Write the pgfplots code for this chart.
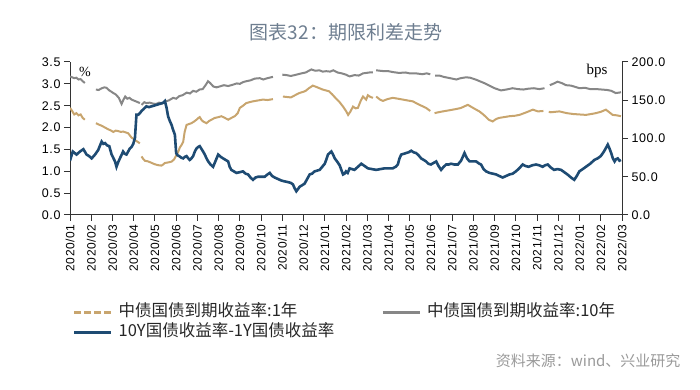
\documentclass[border=0pt]{standalone}
\usepackage{fontspec}
\setmainfont{Liberation Sans}
\newfontfamily\cjk{Noto Sans CJK SC}
\newfontfamily\tickfont[LetterSpace=5]{Liberation Sans}
\newfontfamily\seriffont{Liberation Serif}
\usepackage{pgfplots}
\usepackage{pgfplotstable}
\pgfplotsset{compat=1.18}
\definecolor{cgold}{HTML}{C8A56E}
\definecolor{cgray}{HTML}{878787}
\definecolor{cblue}{HTML}{1E4B73}
\definecolor{axc}{HTML}{333333}
\definecolor{ctitle}{HTML}{6E7E90}
\definecolor{csrc}{HTML}{9A9A9A}

\pgfplotstableread{
x y
0.00 2.45
0.10 2.38
0.20 2.30
0.30 2.33
0.40 2.28
0.50 2.30
0.60 2.22
0.70 2.18
nan nan
1.22 2.10
1.35 2.07
1.50 2.04
1.65 2.00
1.80 1.96
1.90 1.94
2.04 1.90
2.15 1.93
2.27 1.92
2.40 1.90
2.50 1.91
2.62 1.89
2.74 1.87
2.82 1.82
2.90 1.77
3.00 1.74
3.10 1.70
3.20 1.67
3.29 1.64
nan nan
3.37 1.34
3.45 1.28
3.53 1.24
3.65 1.23
3.76 1.21
3.90 1.18
4.00 1.16
4.15 1.14
4.31 1.13
4.40 1.16
4.47 1.19
4.60 1.20
4.78 1.22
4.90 1.27
5.00 1.36
5.10 1.45
5.17 1.54
5.25 1.60
5.33 1.67
5.40 1.90
5.49 2.06
5.60 2.08
5.72 2.10
5.85 2.14
5.96 2.18
6.05 2.22
6.11 2.24
6.20 2.17
6.27 2.14
6.43 2.10
6.55 2.15
6.70 2.19
6.82 2.22
7.00 2.24
7.13 2.26
7.30 2.22
7.45 2.18
7.60 2.22
7.76 2.26
7.90 2.33
8.00 2.45
8.15 2.50
8.30 2.56
8.45 2.58
8.62 2.60
8.85 2.62
9.09 2.64
9.30 2.63
9.56 2.65
nan nan
10.03 2.71
10.20 2.70
10.40 2.69
10.60 2.74
10.80 2.79
11.00 2.82
11.10 2.84
11.25 2.90
11.44 2.96
11.60 2.93
11.75 2.90
11.90 2.87
12.05 2.85
12.20 2.83
12.35 2.76
12.50 2.68
12.70 2.58
12.86 2.48
13.00 2.38
13.10 2.29
13.20 2.36
13.33 2.48
13.45 2.44
13.56 2.45
13.70 2.62
13.80 2.71
13.95 2.64
14.03 2.74
14.15 2.70
14.27 2.68
nan nan
14.42 2.71
14.60 2.64
14.74 2.61
14.95 2.65
15.20 2.68
15.45 2.66
15.68 2.64
15.90 2.62
16.15 2.60
16.30 2.56
16.46 2.52
16.60 2.49
16.77 2.45
16.97 2.38
nan nan
17.17 2.33
17.35 2.35
17.56 2.37
17.80 2.39
18.03 2.41
18.25 2.43
18.42 2.45
18.60 2.49
18.74 2.52
18.95 2.46
19.13 2.41
19.28 2.37
19.44 2.31
19.60 2.24
19.72 2.18
19.91 2.14
20.05 2.19
20.20 2.22
20.45 2.24
20.70 2.26
20.95 2.27
21.17 2.29
21.50 2.35
21.80 2.41
22.04 2.37
22.30 2.38
nan nan
22.55 2.36
22.65 2.35
22.85 2.36
23.05 2.37
23.40 2.33
23.70 2.31
24.00 2.30
24.30 2.29
24.55 2.31
24.77 2.33
25.00 2.36
25.24 2.41
25.40 2.35
25.56 2.29
25.75 2.28
25.95 2.26
}\goldtab

\pgfplotstableread{
x y
0.00 3.17
0.10 3.15
0.20 3.13
0.30 3.14
0.40 3.10
0.50 3.11
0.60 3.06
0.70 3.02
nan nan
1.22 2.87
1.35 2.86
1.50 2.90
1.62 2.92
1.72 2.91
1.85 2.85
1.95 2.82
2.04 2.79
2.15 2.76
2.30 2.68
2.43 2.54
2.52 2.64
2.60 2.71
2.70 2.66
2.80 2.68
2.90 2.64
3.00 2.62
3.10 2.60
3.20 2.58
3.29 2.56
nan nan
3.37 2.52
3.50 2.58
3.60 2.56
3.75 2.57
3.90 2.55
4.05 2.54
4.20 2.57
4.35 2.55
4.50 2.60
4.65 2.62
4.86 2.68
5.00 2.66
5.15 2.72
5.30 2.74
5.50 2.80
5.65 2.78
5.80 2.84
5.95 2.82
6.10 2.87
6.25 2.88
6.40 2.98
6.50 3.06
6.60 3.02
6.75 2.94
6.90 2.92
7.05 2.94
7.25 2.97
7.45 2.95
7.67 2.98
7.85 3.01
8.00 3.00
8.15 3.04
8.30 3.06
8.50 3.08
8.70 3.12
8.94 3.13
9.10 3.10
9.30 3.13
9.56 3.16
nan nan
10.00 3.21
10.20 3.20
10.40 3.18
10.66 3.21
10.90 3.24
11.10 3.26
11.37 3.33
11.55 3.30
11.75 3.31
11.90 3.28
12.07 3.29
12.25 3.28
12.40 3.31
12.60 3.26
12.80 3.24
13.00 3.21
13.17 3.17
13.40 3.20
13.60 3.19
13.80 3.24
14.10 3.26
14.27 3.26
nan nan
14.42 3.31
14.60 3.30
14.80 3.29
15.00 3.29
15.20 3.27
15.50 3.25
15.80 3.26
16.00 3.24
16.30 3.24
16.60 3.22
16.80 3.24
16.97 3.22
nan nan
17.20 3.19
17.40 3.19
17.60 3.16
17.80 3.14
18.00 3.12
18.20 3.10
18.40 3.13
18.66 3.15
18.85 3.14
19.10 3.10
19.30 3.06
19.50 3.02
19.75 2.96
20.00 2.90
20.30 2.85
20.55 2.87
20.85 2.90
21.10 2.88
21.35 2.87
21.60 2.89
21.85 2.90
22.10 2.88
22.35 2.90
nan nan
22.60 2.97
22.80 3.01
22.96 3.05
23.15 3.02
23.36 2.97
23.60 2.96
23.80 2.93
24.00 2.90
24.25 2.91
24.50 2.88
24.80 2.88
25.05 2.87
25.30 2.86
25.50 2.84
25.70 2.79
25.87 2.80
25.95 2.81
}\graytab

\pgfplotstableread{
x y
0.00 71
0.13 83
0.31 79
0.47 83
0.63 86
0.78 79
0.90 77
1.02 74
1.18 79
1.33 85
1.49 96
1.57 93
1.65 94
1.75 91
1.85 90
1.96 79
2.05 74
2.12 70
2.19 63
2.27 69
2.35 74
2.42 78
2.50 83
2.58 80
2.66 79
2.74 83
2.82 87
2.90 89
2.98 93
3.06 101
3.13 131
3.21 131
3.29 133
3.37 136
3.45 138
3.52 140
3.60 142
3.72 141
3.84 142
3.96 143
4.08 144
4.20 145
4.31 146
4.40 147
4.47 149
4.55 140
4.62 129
4.70 123
4.78 118
4.86 111
4.94 105
5.00 81
5.07 78
5.14 77
5.24 75
5.33 74
5.41 76
5.49 77
5.57 74
5.64 72
5.72 74
5.80 77
5.88 83
5.96 87
6.04 89
6.11 90
6.20 86
6.27 83
6.35 79
6.43 74
6.51 70
6.62 66
6.74 63
6.86 71
6.98 79
7.10 76
7.21 74
7.33 72
7.45 70
7.52 63
7.60 59
7.72 57
7.84 55
8.00 56
8.15 57
8.27 54
8.39 53
8.50 49
8.62 46
8.74 49
8.86 50
9.00 50
9.17 50
9.30 53
9.41 55
9.52 51
9.64 49
9.80 47
9.96 45
10.10 44
10.27 43
10.40 42
10.50 40
10.58 35
10.66 31
10.74 34
10.82 37
10.94 39
11.05 41
11.17 47
11.29 53
11.40 54
11.52 57
11.64 58
11.76 59
11.88 63
12.00 67
12.08 73
12.15 79
12.23 81
12.31 83
12.39 79
12.47 74
12.58 70
12.70 65
12.78 59
12.86 53
12.93 54
13.00 57
13.08 55
13.17 61
13.28 60
13.40 59
13.56 63
13.72 67
13.88 64
14.03 61
14.22 60
14.42 59
14.62 60
14.82 61
15.00 61
15.20 61
15.34 63
15.44 66
15.52 74
15.60 79
15.72 80
15.83 81
15.95 82
16.07 84
16.18 82
16.30 81
16.42 78
16.54 74
16.66 72
16.77 70
16.88 67
17.00 66
17.12 68
17.25 70
17.36 64
17.48 59
17.60 63
17.72 66
17.84 66
17.95 67
18.10 66
18.27 66
18.42 71
18.58 81
18.70 74
18.82 70
18.98 70
19.13 70
19.28 67
19.36 66
19.48 60
19.60 57
19.76 55
19.92 54
20.07 53
20.22 51
20.38 49
20.54 51
20.70 53
20.85 54
21.00 57
21.16 61
21.32 66
21.46 64
21.60 63
21.78 65
21.95 66
22.10 65
22.26 63
22.38 65
22.50 66
22.65 62
22.80 59
22.96 60
23.13 59
23.28 56
23.43 53
23.60 49
23.75 46
23.87 51
23.99 57
24.15 60
24.30 63
24.50 67
24.70 72
24.85 74
25.00 77
25.15 83
25.33 92
25.41 87
25.49 81
25.57 74
25.65 70
25.72 73
25.80 74
25.88 71
25.95 72
}\bluetab

\begin{document}
\begin{tikzpicture}
\path[use as bounding box] (-70pt,-175pt) rectangle (630pt,215pt);
\begin{axis}[
  at={(0pt,0pt)}, anchor=south west,
  width=552pt, height=153pt, scale only axis,
  xmin=0, xmax=26, ymin=0, ymax=3.5,
  axis x line*=bottom, axis y line*=left,
  axis line style={draw=axc, line width=1pt, -},
  tick align=outside, major tick length=6pt,
  tick style={draw=axc, line width=1pt},
  xtick={0,1,2,3,4,5,6,7,8,9,10,11,12,13,14,15,16,17,18,19,20,21,22,23,24,25,26},
  xticklabels={2020/01,2020/02,2020/03,2020/04,2020/05,2020/06,2020/07,2020/08,2020/09,2020/10,2020/11,2020/12,2021/01,2021/02,2021/03,2021/04,2021/05,2021/06,2021/07,2021/08,2021/09,2021/10,2021/11,2021/12,2022/01,2022/02,2022/03},
  xticklabel style={rotate=90, anchor=east, font=\tickfont\fontsize{12}{12}\selectfont, text=black},
  ytick={0,0.5,1,1.5,2,2.5,3,3.5},
  yticklabels={0.0,0.5,1.0,1.5,2.0,2.5,3.0,3.5},
  yticklabel style={font=\tickfont\fontsize{12.5}{12.5}\selectfont, text=black},
  unbounded coords=jump,
  legend columns=2,
  legend image code/.code={\draw[#1] (0pt,0pt) -- (37pt,0pt);},
  legend style={draw=none, fill=none, inner sep=0pt,
    at={(0.0054,-0.569)}, anchor=north west,
    font=\cjk\fontsize{16.5}{16.5}\selectfont, text=black!85,
    /tikz/every odd column/.append style={column sep=5pt},
    nodes={text width=262pt, align=left, inner sep=1pt, text height=13pt, text depth=5pt}},
]
\addlegendimage{cgold, line width=2.5pt, dash pattern=on 7pt off 3pt}
\addlegendentry{中债国债到期收益率:1年}
\addlegendimage{cgray, line width=2.5pt}
\addlegendentry{中债国债到期收益率:10年}
\addlegendimage{cblue, line width=2.5pt}
\addlegendentry{10Y国债收益率-1Y国债收益率}
\addplot[cgray, line width=2pt, forget plot] table[x=x,y=y] {\graytab};
\addplot[cgold, line width=2pt, forget plot] table[x=x,y=y] {\goldtab};
\end{axis}
\begin{axis}[
  at={(0pt,0pt)}, anchor=south west,
  width=552pt, height=153pt, scale only axis,
  xmin=0, xmax=26, ymin=0, ymax=200,
  axis x line=none, axis y line*=right,
  axis line style={draw=axc, line width=1pt, -},
  tick align=outside, major tick length=6pt,
  tick style={draw=axc, line width=1pt},
  ytick={0,50,100,150,200},
  yticklabels={0.0,50.0,100.0,150.0,200.0},
  yticklabel style={font=\tickfont\fontsize{12.5}{12.5}\selectfont, text=black},
]
\addplot[cblue, line width=2.6pt, forget plot] table[x=x,y=y] {\bluetab};
\end{axis}
\node[font=\cjk\fontsize{19}{19}\selectfont, text=ctitle] at (276pt,183pt) {图表32：期限利差走势};
\node[font=\seriffont\fontsize{14}{14}\selectfont] at (15pt,143pt) {\%};
\node[font=\seriffont\fontsize{15}{15}\selectfont] at (527pt,144pt) {bps};
\node[font=\cjk\fontsize{15}{15}\selectfont, text=csrc, anchor=east] at (614pt,-146pt) {资料来源：wind、兴业研究};
\end{tikzpicture}
\end{document}
